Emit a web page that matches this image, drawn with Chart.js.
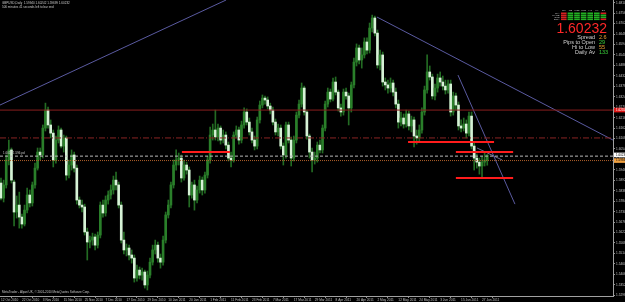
<!DOCTYPE html>
<html>
<head>
<meta charset="utf-8">
<script src="https://cdn.jsdelivr.net/npm/chart.js@4.4.1/dist/chart.umd.min.js"></script>
<style>
html, body { margin: 0; padding: 0; background: #000; }
canvas { display: block; }
</style>
</head>
<body>
<canvas id="chart" width="625" height="302"></canvas>
<script>
//
// data (GBPUSD daily, 12 Oct 2010 .. 29 Jun 2011)
//

// one entry per daily bar
const opens = [1.5878,1.5800,1.5868,1.5997,1.6049,1.5883,1.5728,1.5764,1.5702,1.5666,
 1.5738,1.5816,1.5775,1.5868,1.5955,1.6038,1.6023,1.6162,1.6255,1.6178,
 1.6136,1.5997,1.6100,1.6152,1.6069,1.6111,1.5919,1.5971,1.6023,1.5955,
 1.5790,1.5764,1.5754,1.5625,1.5573,1.5583,1.5599,1.5557,1.5609,1.5764,
 1.5723,1.5790,1.5816,1.5842,1.5893,1.5868,1.5764,1.5583,1.5532,1.5542,
 1.5506,1.5490,1.5387,1.5428,1.5402,1.5418,1.5351,1.5402,1.5469,1.5532,
 1.5557,1.5490,1.5469,1.5583,1.5713,1.5764,1.5868,1.5971,1.5997,1.6007,
 1.5904,1.5971,1.5945,1.5816,1.5868,1.5790,1.5842,1.5893,1.5842,1.5919,
 1.5997,1.6126,1.6152,1.6116,1.6162,1.6100,1.6126,1.6074,1.6007,1.5997,
 1.6126,1.6152,1.6100,1.6178,1.6245,1.6193,1.6142,1.6100,1.6069,1.6204,
 1.6281,1.6317,1.6307,1.6276,1.6255,1.6193,1.6142,1.6162,1.6069,1.6023,
 1.6178,1.6100,1.6007,1.6100,1.6229,1.6286,1.6369,1.6245,1.6121,1.6038,
 1.5997,1.6007,1.6074,1.6049,1.6162,1.6286,1.6348,1.6312,1.6400,1.6348,
 1.6266,1.6245,1.6348,1.6328,1.6266,1.6385,1.6503,1.6576,1.6514,1.6540,
 1.6607,1.6565,1.6679,1.6731,1.6653,1.6488,1.6540,1.6400,1.6385,1.6369,
 1.6395,1.6348,1.6286,1.6193,1.6214,1.6183,1.6235,1.6173,1.6204,1.6121,
 1.6111,1.6152,1.6245,1.6359,1.6452,1.6426,1.6328,1.6369,1.6421,1.6400,
 1.6379,1.6359,1.6390,1.6245,1.6328,1.6281,1.6173,1.6162,1.6183,1.6136,
 1.6224,1.6069,1.6007,1.5986,1.5966,1.5986,1.5994];

const highs = [1.5904,1.5893,1.6023,1.6100,1.6059,1.5893,1.5811,1.5831,1.5718,1.5764,
 1.5852,1.5842,1.5883,1.5981,1.6059,1.6059,1.6178,1.6291,1.6271,1.6204,
 1.6152,1.6121,1.6173,1.6162,1.6126,1.6121,1.5997,1.6049,1.6038,1.5971,
 1.5806,1.5790,1.5769,1.5645,1.5604,1.5619,1.5614,1.5625,1.5780,1.5790,
 1.5811,1.5837,1.5868,1.5914,1.5935,1.5883,1.5780,1.5625,1.5563,1.5557,
 1.5532,1.5506,1.5454,1.5444,1.5438,1.5428,1.5423,1.5490,1.5557,1.5583,
 1.5573,1.5511,1.5604,1.5728,1.5790,1.5883,1.5997,1.6049,1.6033,1.6023,
 1.5997,1.5986,1.5961,1.5883,1.5893,1.5862,1.5914,1.5909,1.5935,1.6017,
 1.6167,1.6183,1.6255,1.6183,1.6173,1.6152,1.6142,1.6090,1.6038,1.6142,
 1.6173,1.6167,1.6198,1.6266,1.6261,1.6214,1.6162,1.6121,1.6219,1.6302,
 1.6333,1.6328,1.6323,1.6291,1.6271,1.6209,1.6183,1.6178,1.6085,1.6193,
 1.6193,1.6116,1.6121,1.6245,1.6307,1.6395,1.6379,1.6255,1.6131,1.6059,
 1.6038,1.6090,1.6100,1.6178,1.6302,1.6369,1.6364,1.6421,1.6426,1.6359,
 1.6286,1.6364,1.6369,1.6343,1.6400,1.6524,1.6597,1.6591,1.6576,1.6628,
 1.6628,1.6705,1.6746,1.6741,1.6669,1.6565,1.6555,1.6421,1.6410,1.6421,
 1.6410,1.6369,1.6307,1.6245,1.6235,1.6255,1.6250,1.6224,1.6219,1.6152,
 1.6178,1.6266,1.6379,1.6540,1.6483,1.6441,1.6390,1.6441,1.6452,1.6431,
 1.6410,1.6410,1.6410,1.6348,1.6343,1.6297,1.6204,1.6214,1.6204,1.6245,
 1.6245,1.6085,1.6028,1.6007,1.6017,1.6038,1.6024];

const lows = [1.5790,1.5780,1.5852,1.5971,1.5878,1.5656,1.5697,1.5645,1.5645,1.5656,
 1.5723,1.5754,1.5759,1.5852,1.5945,1.5997,1.6007,1.6147,1.6162,1.6111,
 1.5961,1.5981,1.6085,1.6059,1.6038,1.5893,1.5904,1.5945,1.5935,1.5769,
 1.5749,1.5728,1.5609,1.5480,1.5542,1.5557,1.5532,1.5542,1.5594,1.5702,
 1.5707,1.5769,1.5795,1.5821,1.5842,1.5749,1.5568,1.5511,1.5501,1.5480,
 1.5464,1.5366,1.5371,1.5382,1.5376,1.5335,1.5325,1.5387,1.5454,1.5511,
 1.5469,1.5438,1.5454,1.5568,1.5697,1.5749,1.5852,1.5945,1.5971,1.5883,
 1.5893,1.5924,1.5754,1.5800,1.5738,1.5775,1.5826,1.5816,1.5826,1.5904,
 1.5981,1.6100,1.6100,1.6095,1.6079,1.6085,1.6054,1.5992,1.5961,1.5986,
 1.6111,1.6079,1.6085,1.6162,1.6178,1.6126,1.6085,1.6049,1.6054,1.6188,
 1.6266,1.6286,1.6261,1.6235,1.6178,1.6126,1.6121,1.6054,1.5971,1.6007,
 1.6085,1.5966,1.5992,1.6085,1.6214,1.6271,1.6229,1.6105,1.6007,1.5935,
 1.5976,1.5986,1.6033,1.6033,1.6147,1.6271,1.6297,1.6302,1.6333,1.6250,
 1.6224,1.6229,1.6312,1.6178,1.6245,1.6369,1.6483,1.6493,1.6472,1.6524,
 1.6545,1.6550,1.6659,1.6638,1.6472,1.6462,1.6379,1.6359,1.6343,1.6348,
 1.6328,1.6266,1.6162,1.6173,1.6162,1.6167,1.6152,1.6142,1.6064,1.6079,
 1.6095,1.6136,1.6229,1.6343,1.6410,1.6312,1.6307,1.6348,1.6379,1.6359,
 1.6338,1.6343,1.6224,1.6229,1.6255,1.6152,1.6142,1.6147,1.6111,1.6121,
 1.6054,1.5945,1.5955,1.5924,1.5904,1.5966,1.5970];

const closes = [1.5800,1.5868,1.5997,1.6049,1.5893,1.5728,1.5764,1.5702,1.5666,1.5738,
 1.5816,1.5775,1.5868,1.5955,1.6038,1.6023,1.6162,1.6255,1.6178,1.6136,
 1.5997,1.6100,1.6152,1.6069,1.6111,1.5919,1.5971,1.6023,1.5955,1.5790,
 1.5764,1.5754,1.5625,1.5573,1.5583,1.5599,1.5557,1.5609,1.5764,1.5723,
 1.5790,1.5816,1.5842,1.5893,1.5868,1.5764,1.5583,1.5532,1.5542,1.5506,
 1.5490,1.5387,1.5428,1.5402,1.5418,1.5351,1.5402,1.5469,1.5532,1.5557,
 1.5490,1.5469,1.5583,1.5713,1.5764,1.5868,1.5971,1.5997,1.6007,1.5904,
 1.5971,1.5945,1.5816,1.5868,1.5790,1.5842,1.5893,1.5842,1.5919,1.5997,
 1.6126,1.6152,1.6116,1.6162,1.6100,1.6126,1.6074,1.6007,1.5997,1.6126,
 1.6152,1.6100,1.6178,1.6245,1.6193,1.6142,1.6100,1.6069,1.6204,1.6281,
 1.6317,1.6307,1.6276,1.6255,1.6193,1.6142,1.6162,1.6069,1.6023,1.6178,
 1.6100,1.6007,1.6100,1.6229,1.6286,1.6369,1.6245,1.6121,1.6038,1.5997,
 1.6007,1.6074,1.6049,1.6162,1.6286,1.6348,1.6312,1.6400,1.6348,1.6266,
 1.6245,1.6348,1.6328,1.6266,1.6385,1.6503,1.6576,1.6514,1.6540,1.6607,
 1.6565,1.6679,1.6731,1.6653,1.6488,1.6540,1.6400,1.6385,1.6369,1.6395,
 1.6348,1.6286,1.6193,1.6214,1.6183,1.6235,1.6173,1.6204,1.6121,1.6111,
 1.6152,1.6245,1.6359,1.6452,1.6426,1.6328,1.6369,1.6421,1.6400,1.6379,
 1.6359,1.6390,1.6245,1.6328,1.6281,1.6173,1.6162,1.6183,1.6136,1.6224,
 1.6069,1.6007,1.5986,1.5966,1.5986,1.5997,1.6023];

// bottom axis labels, one every 8 bars
const dateLabels = ['12 Oct 2010','22 Oct 2010','3 Nov 2010','15 Nov 2010','25 Nov 2010','7 Dec 2010',
 '17 Dec 2010','29 Dec 2010','10 Jan 2011','20 Jan 2011','1 Feb 2011','11 Feb 2011','23 Feb 2011',
 '7 Mar 2011','17 Mar 2011','29 Mar 2011','8 Apr 2011','20 Apr 2011','2 May 2011','12 May 2011',
 '24 May 2011','3 Jun 2011','15 Jun 2011','27 Jun 2011'];
const dateStep = 8;

// right axis price labels
const priceTicks = [1.6810,1.6756,1.6702,1.6648,1.6594,1.6540,1.6486,1.6432,1.6378,1.6324,
 1.6270,1.6216,1.6162,1.6108,1.6054,1.6000,1.5946,1.5892,1.5838,1.5784,1.5730,1.5676,
 1.5622,1.5568,1.5514,1.5460,1.5406,1.5352,1.5298];

// horizontal levels drawn across the chart
const resistLevel = 1.6255;
const pivotLevel = 1.6111;
const pdLevel = 1.6017;
const dayOpenLevel = 1.5994;
const bidPrice = 1.60232;

// short red zones: [from bar, to bar, price]
const redZones = [[69.2, 87.6, 1.6038], [155.7, 188.6, 1.6090], [174.0, 195.9, 1.6038], [174.0, 195.9, 1.5904]];

// trend lines: [[bar, price], [bar, price]]
const trendUp = [[-0.4, 1.6281], [86.1, 1.6824]];
const trendTop = [[143.8, 1.6736], [234.1, 1.6100]];
const trendSteep = [[174.8, 1.6436], [196.6, 1.5769]];
const trendShort = [[182.1, 1.6059], [191.7, 1.5997]];

// texts
const headerText = 'GBPUSD,Daily  1.59940 1.60242 1.59699 1.60232';
const timerText = '506 minutes 41 seconds left to bar end';
const copyText = 'MetaTrader - Alpari UK, \u00a9 2001-2010 MetaQuotes Software Corp.';
const pdText = '1.6017/1.596 pd';

// signal panel top right
const panelCols = ['M1','M5','M15','M30','H1','H4','D1'];
const panelRows = ['M/A','MACD','STR','EMA'];
const panelState = [[0,1,1,1,1,1,0],[0,1,1,1,1,1,1],[0,1,1,1,1,1,1],[0,1,1,1,1,1,0]];
const statNames = ['Spread','Pips to Open','Hi to Low','Daily Av'];
const statValues = ['2.6','29','55','133'];
const statColors = ['#e8a030','#3ad03a','#e8a030','#3ad03a'];

//
// chart setup
//
const xMin = -0.38, xMax = 234.1;
const yMin = 1.5294, yMax = 1.6824;

const wickColor = '#236b23';
const bullColor = '#2a7f2a';
const bearColor = '#d6f2d6';
const trendColor = '#5a5aa0';

function segment(pts) {
    return pts.map(p => ({x: p[0], y: p[1]}));
}

function flatLine(price, color, dash, width) {
    return {
        type: 'line',
        data: [{x: xMin, y: price}, {x: xMax, y: price}],
        borderColor: color,
        borderWidth: width || 1,
        borderDash: dash || [],
        pointRadius: 0,
        order: 1
    };
}

let datasets = [];

// wicks
datasets.push({
    type: 'bar',
    data: lows.map((l, i) => ({x: i, y: [l, highs[i]]})),
    backgroundColor: wickColor,
    barThickness: 1,
    grouped: false,
    order: 3
});

// bodies
datasets.push({
    type: 'bar',
    data: opens.map((o, i) => ({x: i, y: [o, closes[i]]})),
    backgroundColor: opens.map((o, i) => closes[i] >= o ? bullColor : bearColor),
    barThickness: 2,
    minBarLength: 1,
    grouped: false,
    order: 2
});

datasets.push(flatLine(resistLevel, '#8a1e1e'));
datasets.push(flatLine(pivotLevel, '#8a2424', [6, 2, 1, 2]));
datasets.push(flatLine(pdLevel, '#b8b8b8', [3, 2]));
datasets.push(flatLine(dayOpenLevel, '#b0602a', [1, 1]));

redZones.forEach(z => {
    datasets.push({
        type: 'line',
        data: [{x: z[0], y: z[2]}, {x: z[1], y: z[2]}],
        borderColor: '#ff1c1c',
        borderWidth: 2,
        pointRadius: 0,
        order: 0
    });
});

[trendUp, trendTop, trendSteep].forEach(t => {
    datasets.push({
        type: 'line',
        data: segment(t),
        borderColor: trendColor,
        borderWidth: 1,
        pointRadius: 0,
        order: 1
    });
});
datasets.push({
    type: 'line',
    data: segment(trendShort),
    borderColor: '#6a6a90',
    borderWidth: 1,
    pointRadius: 0,
    order: 1
});

// texts, info panel and axis price boxes
const overlay = {
    id: 'overlay',
    afterDraw(chart) {
        const ctx = chart.ctx;
        const ys = chart.scales.y;
        const area = chart.chartArea;
        ctx.save();

        // top left info
        ctx.fillStyle = '#c8c8c8';
        ctx.textBaseline = 'top';
        ctx.textAlign = 'left';
        ctx.font = '3px "Liberation Sans"';
        ctx.fillText(headerText, 2, 1.5);
        ctx.fillText(timerText, 2, 6);
        ctx.fillText(copyText, 2, 290.5);
        ctx.textBaseline = 'bottom';
        ctx.fillText(pdText, 3, ys.getPixelForValue(pdLevel) - 1);

        // signal panel
        const px0 = 561, cw = 6.6, ry0 = 12.5, rh = 2;
        ctx.font = '2.5px "Liberation Sans"';
        ctx.textAlign = 'center';
        ctx.textBaseline = 'middle';
        ctx.fillStyle = '#d0d0d0';
        panelCols.forEach((c, k) => ctx.fillText(c, px0 + k * cw + 2.8, 10));
        ctx.textAlign = 'right';
        panelRows.forEach((r, k) => ctx.fillText(r, 559.5, ry0 + k * rh + 1));
        panelState.forEach((row, r) => {
            row.forEach((s, c) => {
                ctx.fillStyle = s ? '#22b022' : '#d42020';
                ctx.fillRect(px0 + c * cw, ry0 + r * rh, cw - 1, rh - 0.4);
            });
        });

        // bid price
        ctx.font = '14px "Liberation Sans"';
        ctx.fillStyle = '#ff2828';
        ctx.textBaseline = 'alphabetic';
        ctx.textAlign = 'right';
        ctx.fillText(bidPrice.toFixed(5), 607, 33);

        // stats
        ctx.font = '5.5px "Liberation Sans"';
        statNames.forEach((n, k) => {
            const yy = 38.5 + k * 5.2;
            ctx.textAlign = 'right';
            ctx.fillStyle = '#d0d0d0';
            ctx.fillText(n, 595, yy);
            ctx.textAlign = 'left';
            ctx.fillStyle = statColors[k];
            ctx.fillText(statValues[k], 599, yy);
        });

        // price boxes on the axis
        const boxes = [[resistLevel, '#e01818', '#ffffff'], [bidPrice, '#ffffff', '#000000'], [dayOpenLevel, '#f0a040', '#000000']];
        ctx.font = '3px "Liberation Sans"';
        ctx.textAlign = 'left';
        ctx.textBaseline = 'middle';
        boxes.forEach(b => {
            const yy = ys.getPixelForValue(b[0]);
            ctx.fillStyle = b[1];
            ctx.fillRect(area.right + 1, yy - 2.3, 12, 4.6);
            ctx.fillStyle = b[2];
            ctx.fillText(b[0].toFixed(5), area.right + 3, yy);
        });
        ctx.restore();
    }
};

new Chart(document.getElementById('chart'), {
    data: {datasets: datasets},
    options: {
        responsive: false,
        animation: false,
        devicePixelRatio: 1,
        layout: {padding: 0},
        plugins: {
            legend: {display: false},
            tooltip: {enabled: false}
        },
        scales: {
            x: {
                type: 'linear',
                min: xMin,
                max: xMax,
                bounds: 'data',
                offset: false,
                afterBuildTicks: s => { s.ticks = dateLabels.map((d, k) => ({value: k * dateStep})); },
                afterFit: s => { s.height = 6; s.paddingLeft = 0; s.paddingRight = 0; },
                ticks: {
                    autoSkip: false,
                    maxRotation: 0,
                    align: 'start',
                    padding: 0,
                    color: '#c0c0c0',
                    font: {family: 'Liberation Sans', size: 3.2},
                    callback: (v, k) => dateLabels[k]
                },
                grid: {display: true, drawOnChartArea: false, tickLength: 2, color: '#909090'},
                border: {display: true, color: '#a0a0a0'}
            },
            y: {
                position: 'right',
                min: yMin,
                max: yMax,
                bounds: 'data',
                afterBuildTicks: s => { s.ticks = priceTicks.map(v => ({value: v})); },
                afterFit: s => { s.width = 12; s.paddingTop = 0; s.paddingBottom = 0; },
                ticks: {
                    autoSkip: false,
                    padding: 1,
                    color: '#c0c0c0',
                    font: {family: 'Liberation Sans', size: 3.2},
                    callback: v => v.toFixed(5)
                },
                grid: {display: true, drawOnChartArea: false, tickLength: 2, color: '#909090'},
                border: {display: true, color: '#a0a0a0'}
            }
        }
    },
    plugins: [overlay]
});
</script>
</body>
</html>
